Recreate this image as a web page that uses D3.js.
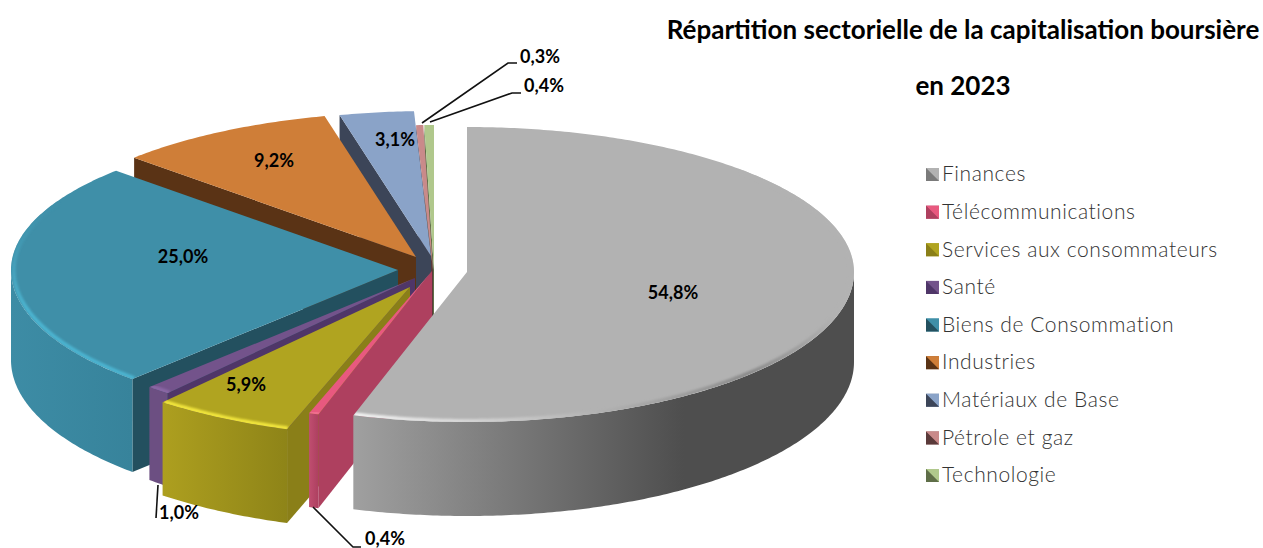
<!DOCTYPE html>
<html>
<head>
<meta charset="utf-8">
<script src="https://cdn.jsdelivr.net/npm/d3@7"></script>
<style>
html, body { margin: 0; padding: 0; background: #fff; }
svg { display: block; }
text { font-family: Lato, "Open Sans", sans-serif; }
</style>
</head>
<body>
<div class="chart1"></div>
<script>
var categories = ["Finances", "Télécommunications", "Services aux consommateurs", "Santé",
    "Biens de Consommation", "Industries", "Matériaux de Base", "Pétrole et gaz", "Technologie"];
var values = [54.8, 0.4, 5.9, 1.0, 25.0, 9.2, 3.1, 0.3, 0.4];
var valueLabels = ["54,8%", "0,4%", "5,9%", "1,0%", "25,0%", "9,2%", "3,1%", "0,3%", "0,4%"];
var titleLines = ["Répartition sectorielle de la capitalisation boursière", "en 2023"];

// colours per slice: top, cut face, wall left, wall right
var topColors  = ["#b2b2b2", "#e8597f", "#b0a420", "#73538b", "#3f8fa8", "#cf7e38", "#8aa3c8", "#c98a8a", "#b0c88c"];
var faceColors = ["#7a7a7a", "#ae405f", "#8a7f18", "#4f3668", "#23505f", "#5a3315", "#3c4558", "#5a3a3a", "#5f6e48"];
var wallLeft   = ["#a0a0a0", "#c04e70", "#ad9f1f", "#6c4f82", "#3d8ca5", "#a8662c", "#6f85a5", "#a87070", "#90a470"];
var wallRight  = ["#4e4e4e", "#ad4060", "#8e8418", "#6c4f82", "#37839b", "#a8662c", "#6f85a5", "#a87070", "#90a470"];
// rim highlight colour at the start and end of the stroke, null = no highlight
var rimStart = ["#8a8a8a", "#f0708f", "#f2e63c", "#8a68a5", "#4cb4d0", null, null, null, null];
var rimEnd   = ["#f4f4f4", "#f0708f", "#f2e63c", "#8a68a5", "#3f8fa8", null, null, null, null];

// explosion of each slice from the pie centre, in px (the source pie is exploded by hand)
var shiftX = [46, 11, -11, -6, -23, -5, 10, 12, 13];
var shiftY = [2, 1, 17, 8, 0, -13, -14, 0, 0];

var width = 1263, height = 548,
    cx = 421, cy = 270,
    rx = 387, ryBack = 145, ryFront = 150,
    depthSide = 90, depthFront = 94;

var svg = d3.select(".chart1").append("svg")
    .attr("width", width)
    .attr("height", height);
var defs = svg.append("defs");
defs.append("filter").attr("id", "soft")
    .attr("x", "-5%").attr("y", "-5%").attr("width", "110%").attr("height", "110%")
    .append("feGaussianBlur").attr("stdDeviation", 1.1);

var pie = d3.pie().sort(null).value(function(d) { return d; });
var arcs = pie(values);
var line = d3.line();

function depth(a) {
    return depthSide + (depthFront - depthSide) * Math.max(0, -Math.cos(a));
}
// angle (clockwise from the top) and radius fraction to screen
function project(i, a, r, down) {
    var c = Math.cos(a);
    return [
        cx + shiftX[i] + rx * r * Math.sin(a),
        cy + shiftY[i] - r * c * (c > 0 ? ryBack : ryFront) + (down ? depth(a) : 0)
    ];
}
function sweep(i, a0, a1, r, down) {
    var n = Math.max(2, Math.ceil((a1 - a0) * 90));
    return d3.range(n + 1).map(function(k) {
        return project(i, a0 + (a1 - a0) * k / n, r, down);
    });
}

// back to front
var order = [8, 7, 6, 5, 4, 3, 2, 1, 0];
order.forEach(function(i) {
    var d = arcs[i],
        a0 = d.startAngle, a1 = Math.min(d.endAngle, 2 * Math.PI),
        g = svg.append("g").attr("class", "slice");

    // cut face at the start angle, hidden for the slice that starts at the top
    if (i > 0) {
        var apex = project(i, a0, 0), rim = project(i, a0, 1);
        g.append("path")
            .attr("d", line([apex, rim, project(i, a0, 1, true), [apex[0], apex[1] + depth(0) + 3]]) + "Z")
            .attr("fill", faceColors[i]);
    }

    // outer wall, only the part that faces the viewer
    var w0 = Math.max(a0, Math.PI / 2), w1 = Math.min(a1, 3 * Math.PI / 2);
    if (w1 > w0) {
        var wallPts = sweep(i, w0, w1, 1);
        var xr = d3.extent(wallPts, function(p) { return p[0]; });
        var wallGrad = defs.append("linearGradient").attr("id", "wall" + i)
            .attr("gradientUnits", "userSpaceOnUse")
            .attr("x1", xr[0]).attr("x2", xr[1]).attr("y1", 0).attr("y2", 0);
        wallGrad.append("stop").attr("offset", "0%").attr("stop-color", wallLeft[i]);
        wallGrad.append("stop").attr("offset", i === 0 ? "66%" : "100%").attr("stop-color", wallRight[i]);
        g.append("path")
            .attr("d", line(wallPts.concat(sweep(i, w0, w1, 1, true).reverse())) + "Z")
            .attr("fill", "url(#wall" + i + ")");
    }

    // top of the slice
    var top = [project(i, a0, 0)].concat(sweep(i, a0, a1, 1));
    var clipId = "clip" + i;
    defs.append("clipPath").attr("id", clipId).append("path").attr("d", line(top) + "Z");
    g.append("path")
        .attr("d", line(top) + "Z")
        .attr("fill", topColors[i]);

    // bevel highlight on the front of the rim
    if (rimStart[i]) {
        var b0 = i === 0 ? Math.PI / 4 : a0,
            b1 = i === 4 ? 5.2 : a1,
            p0 = project(i, b0, 1), p1 = project(i, b1, 1);
        var rimGrad = defs.append("linearGradient").attr("id", "rim" + i)
            .attr("gradientUnits", "userSpaceOnUse")
            .attr("x1", p0[0]).attr("y1", p0[1]).attr("x2", p1[0]).attr("y2", p1[1]);
        if (i === 0) {
            // fades in from the back, darkens on the right, lights up at the front left
            rimGrad.append("stop").attr("offset", "0%").attr("stop-color", topColors[i]);
            rimGrad.append("stop").attr("offset", "22%").attr("stop-color", rimStart[i]);
            rimGrad.append("stop").attr("offset", "55%").attr("stop-color", topColors[i]);
        } else {
            rimGrad.append("stop").attr("offset", "55%").attr("stop-color", rimStart[i]);
        }
        rimGrad.append("stop").attr("offset", "100%").attr("stop-color", rimEnd[i]);
        g.append("g").attr("clip-path", "url(#" + clipId + ")")
            .append("path")
            .attr("d", line(sweep(i, b0, b1, 0.993)))
            .attr("fill", "none")
            .attr("stroke", "url(#rim" + i + ")")
            .attr("stroke-width", 4)
            .attr("filter", "url(#soft)");
    }
});

// labels inside and around the pie
var labelX = [673, 385, 246, 179, 183, 274, 395, 540, 544],
    labelY = [293, 539, 385, 513, 257, 161, 140, 57, 86];
svg.selectAll(".value-label")
    .data(valueLabels)
    .enter().append("text")
    .attr("class", "value-label")
    .attr("x", function(d, i) { return labelX[i]; })
    .attr("y", function(d, i) { return labelY[i]; })
    .attr("dy", "0.35em")
    .attr("text-anchor", "middle")
    .attr("font-size", 18)
    .attr("font-weight", 700)
    .attr("fill", "#000")
    .text(function(d) { return d; });

// leader lines
var leaders = [
    [[313, 507], [353, 547], [361, 547]],
    [[158, 485], [156, 518]],
    [[422, 123], [508, 63], [517, 63]],
    [[430, 122], [512, 93], [521, 93]]
];
svg.selectAll(".leader")
    .data(leaders)
    .enter().append("path")
    .attr("class", "leader")
    .attr("d", function(d) { return line(d); })
    .attr("fill", "none")
    .attr("stroke", "#111")
    .attr("stroke-width", 1.6);

// title
svg.selectAll(".title")
    .data(titleLines)
    .enter().append("text")
    .attr("class", "title")
    .attr("x", 963)
    .attr("y", function(d, i) { return i === 0 ? 30 : 86; })
    .attr("dy", "0.35em")
    .attr("text-anchor", "middle")
    .attr("font-size", 26)
    .attr("font-weight", 700)
    .attr("fill", "#000")
    .text(function(d) { return d; });

// legend
var legendY = d3.scalePoint().domain(categories).range([174, 475]);
var keySize = 13;
var legend = svg.selectAll(".legend")
    .data(categories)
    .enter().append("g")
    .attr("class", "legend")
    .attr("transform", function(d) { return "translate(926," + legendY(d) + ")"; });

legend.append("path")
    .attr("d", line([[0, -6], [keySize, -6], [keySize, 7], [0, 7]]) + "Z")
    .attr("fill", function(d, i) { return wallLeft[i]; });
legend.append("path")
    .attr("d", line([[0, -6], [keySize, -6], [keySize, 7]]) + "Z")
    .attr("fill", function(d, i) { return topColors[i]; });
legend.append("path")
    .attr("d", line([[0, -6], [0, 7], [keySize, 7]]) + "Z")
    .attr("fill", function(d, i) { return faceColors[i]; });

legend.append("text")
    .attr("x", 16)
    .attr("dy", "0.35em")
    .attr("font-size", 21)
    .attr("font-weight", 300)
    .attr("letter-spacing", 0.58)
    .attr("fill", "#333")
    .text(function(d) { return d; });
</script>
</body>
</html>
